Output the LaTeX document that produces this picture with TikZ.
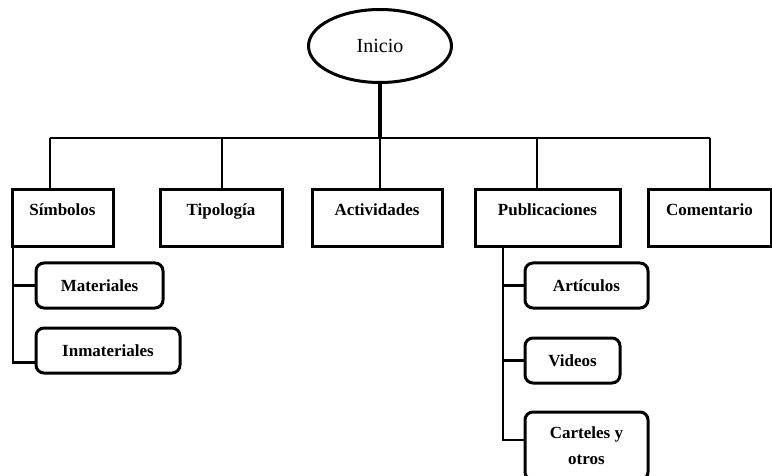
\documentclass[tikz,border=0pt]{standalone}
\usepackage{fontspec}
\setmainfont{Liberation Serif}
\usetikzlibrary{shapes.geometric}
\tikzset{
  topbox/.style={draw, line width=3pt, minimum height=57pt, inner xsep=2pt, inner ysep=5pt,
    text height=20pt, text depth=27pt, font=\fontsize{17}{19}\selectfont\bfseries},
  subbox/.style={draw, rounded corners=8pt, line width=3pt, minimum height=45pt, inner sep=2pt,
    align=center, font=\fontsize{17}{26}\selectfont\bfseries},
  conn/.style={line width=2.6pt}
}
\begin{document}
\begin{tikzpicture}[x=1pt, y=-1pt]
			\useasboundingbox (0,0) rectangle (772,476);
			\node (n0) [draw, ellipse, line width=3pt, minimum width=143pt, minimum height=73pt,
			  font=\fontsize{20}{22}\selectfont] at (380,46) {Inicio};
			\node (n1) [topbox, minimum width=101pt] at (62.5,218.5) {Símbolos};
			\node (n2) [topbox, minimum width=122pt] at (221,218.5) {Tipología};
			\node (n3) [topbox, minimum width=130pt] at (377,218.5) {Actividades};
			\node (n4) [topbox, minimum width=145pt] at (547.5,218.5) {Publicaciones};
			\node (n5) [topbox, minimum width=123pt] at (709.5,218.5) {Comentario};
			\node (n11) [subbox, minimum width=127pt] at (99.5,285.5) {Materiales};
			\node (n12) [subbox, minimum width=144pt] at (108,350.5) {Inmateriales};
			\node (n41) [subbox, minimum width=123pt] at (586.5,285.5) {Artículos};
			\node (n42) [subbox, minimum width=95pt] at (572.5,360.5) {Videos};
			\node (n43) [subbox, minimum width=123pt, minimum height=68pt] at (586.5,446) {Carteles y\\otros};
			% junctions on the bar
			\coordinate (b0) at (380,138);
			\coordinate (b1) at (50,138);
			\coordinate (b2) at (222,138);
			\coordinate (b4) at (537,138);
			\coordinate (b5) at (710,138);
			\coordinate (s1) at (13,247);
			\coordinate (s4) at (503,247);
			\draw [line width=3.4pt] (n0) -- (b0);
			\draw [conn] (b1) -- (b5);
			\draw [conn] (b1) -- (b1 |- n1.north);
			\draw [conn] (b2) -- (b2 |- n2.north);
			\draw [conn] (b0) -- (b0 |- n3.north);
			\draw [conn] (b4) -- (b4 |- n4.north);
			\draw [conn] (b5) -- (b5 |- n5.north);
			\draw [conn] (s1) |- (n11.west);
			\draw [conn] (s1) |- ([yshift=-12pt]n12.west);
			\draw [conn] (s4) |- (n41.west);
			\draw [conn] (s4) |- (n42.west);
			\draw [conn] (s4) |- ([yshift=6pt]n43.west);
		\end{tikzpicture}
\end{document}
